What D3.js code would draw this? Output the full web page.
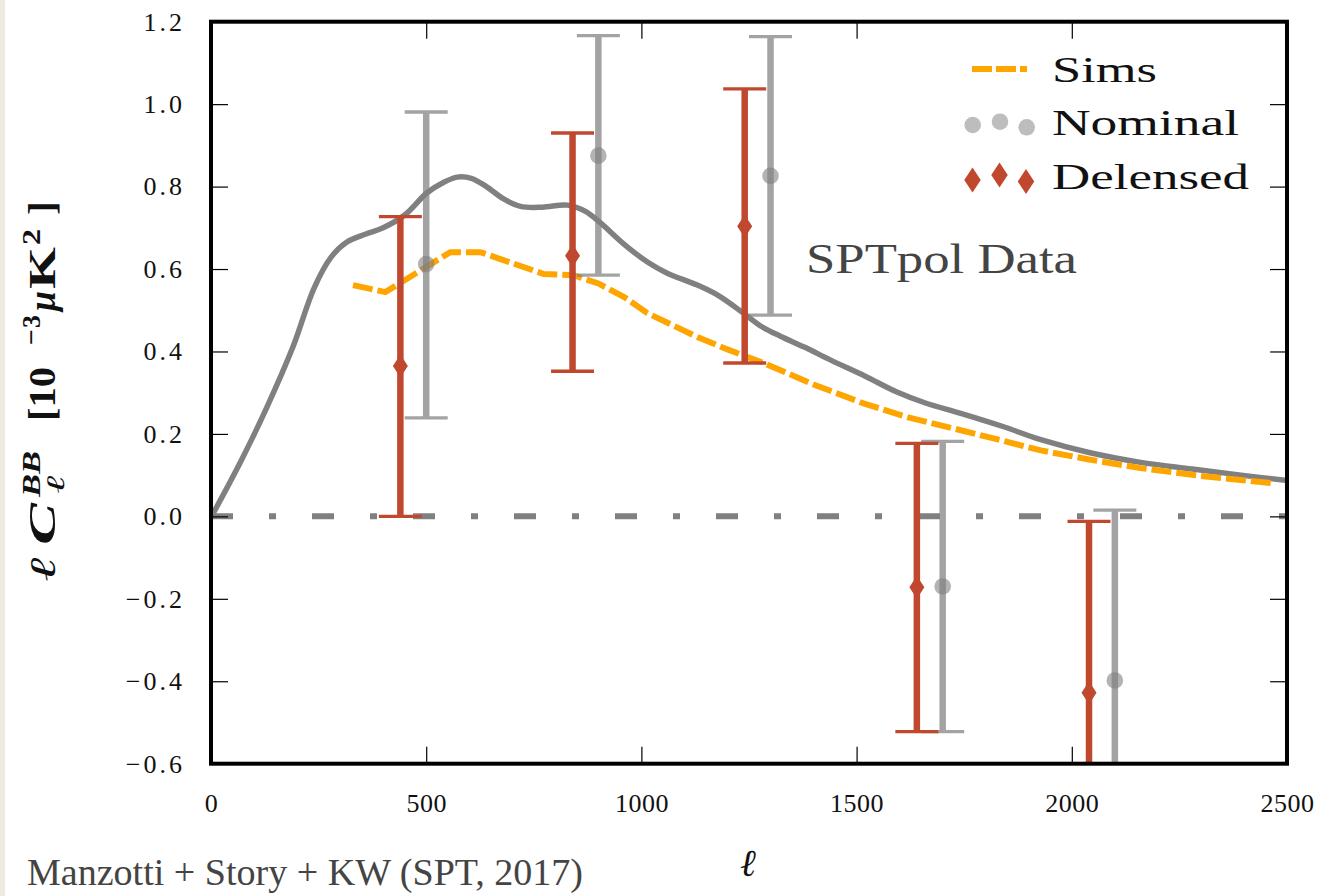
<!DOCTYPE html>
<html><head><meta charset="utf-8">
<script src="https://cdn.jsdelivr.net/npm/d3@7"></script>
<style>
html,body{margin:0;padding:0;background:#fff;}
svg{display:block;}
</style></head>
<body>
<svg id="chart" width="1329" height="896"></svg>
<script>
// ---- data ----
const xTicks = [0, 500, 1000, 1500, 2000, 2500];
const yTicks = [-0.6, -0.4, -0.2, 0.0, 0.2, 0.4, 0.6, 0.8, 1.0, 1.2];

const theoryL = [5, 70, 130, 190, 240, 280, 315, 360, 400, 450, 502, 540, 572, 605, 640, 680, 719, 770, 828, 870, 905, 960, 1014, 1060, 1130, 1180, 1237, 1280, 1323, 1380, 1440, 1520, 1595, 1660, 1742, 1840, 1928, 2040, 2160, 2280, 2393, 2502];
const theoryV = [0.007, 0.135, 0.265, 0.41, 0.555, 0.63, 0.665, 0.685, 0.70, 0.731, 0.785, 0.81, 0.823, 0.82, 0.80, 0.77, 0.752, 0.75, 0.755, 0.74, 0.712, 0.66, 0.617, 0.59, 0.561, 0.535, 0.493, 0.46, 0.437, 0.41, 0.379, 0.34, 0.301, 0.275, 0.25, 0.218, 0.186, 0.155, 0.131, 0.115, 0.10, 0.087];

const simsL = [330, 405, 556, 626, 773, 842, 900, 960, 1014, 1070, 1130, 1200, 1284, 1400, 1516, 1620, 1742, 1830, 1928, 2040, 2160, 2300, 2470];
const simsV = [0.561, 0.544, 0.641, 0.641, 0.588, 0.585, 0.565, 0.532, 0.493, 0.465, 0.435, 0.405, 0.372, 0.32, 0.274, 0.24, 0.209, 0.186, 0.16, 0.138, 0.117, 0.098, 0.080];

const nomL  = [500, 900, 1300, 1700, 2100];
const nomV  = [0.612, 0.875, 0.826, -0.170, -0.398];
const nomLo = [0.239, 0.585, 0.488, -0.522, -0.81];
const nomHi = [0.981, 1.166, 1.164, 0.182, 0.015];

const delL  = [440, 840, 1240, 1640, 2040];
const delV  = [0.365, 0.632, 0.704, -0.172, -0.428];
const delLo = [0.0, 0.352, 0.372, -0.522, -0.84];
const delHi = [0.727, 0.93, 1.037, 0.177, -0.012];

const legendLabels = ["Sims", "Nominal", "Delensed"];

// ---- layout ----
const svg = d3.select("#chart");
const L = 211, R = 1287, T = 21.7, B = 763.7;
const x = d3.scaleLinear().domain([0, 2500]).range([L, R]);
const y = d3.scaleLinear().domain([-0.6, 1.2]).range([B, T]);

const RED = "#C0482E", GRAY = "#808080", ORANGE = "#FFA500";
const serif = "'Liberation Serif', 'DejaVu Serif', serif";

// left cream strip
svg.append("rect").attr("x", 0).attr("y", 0).attr("width", 5).attr("height", 896).attr("fill", "#eeeae2");

svg.append("defs").append("clipPath").attr("id", "clip")
  .append("rect").attr("x", L).attr("y", T).attr("width", R - L).attr("height", B - T);

const plot = svg.append("g").attr("clip-path", "url(#clip)");

// theory curve
plot.append("path")
  .datum(theoryL.map((l, i) => [l, theoryV[i]]))
  .attr("fill", "none").attr("stroke", GRAY).attr("stroke-width", 5.5)
  .attr("stroke-linejoin", "round")
  .attr("d", d3.line().x(d => x(d[0])).y(d => y(d[1])).curve(d3.curveCatmullRom.alpha(0.5)));

// sims curve
plot.append("path")
  .datum(simsL.map((l, i) => [l, simsV[i]]))
  .attr("fill", "none").attr("stroke", ORANGE).attr("stroke-width", 6)
  .attr("stroke-dasharray", "20 5")
  .attr("d", d3.line().x(d => x(d[0])).y(d => y(d[1])));

// zero line (dash-dot)
plot.append("line")
  .attr("x1", x(0)).attr("x2", x(2500)).attr("y1", y(0)).attr("y2", y(0))
  .attr("stroke", GRAY).attr("stroke-width", 6)
  .attr("stroke-dasharray", "22 36 7 36");

// error bars
function errorbars(ls, vs, lo, hi, color, op) {
  const g = plot.append("g").attr("opacity", op);
  ls.forEach((l, i) => {
    const gg = g.append("g");
    gg.append("line").attr("x1", x(l)).attr("x2", x(l))
      .attr("y1", y(lo[i])).attr("y2", y(hi[i]))
      .attr("stroke", color).attr("stroke-width", 6.5);
    [lo[i], hi[i]].forEach(v => {
      gg.append("line").attr("x1", x(l) - 21.5).attr("x2", x(l) + 21.5)
        .attr("y1", y(v)).attr("y2", y(v))
        .attr("stroke", color).attr("stroke-width", 3.3);
    });
  });
}
errorbars(nomL, nomV, nomLo, nomHi, GRAY, 0.72);
errorbars(delL, delV, delLo, delHi, RED, 1);

// nominal markers
plot.selectAll("circle.nom").data(nomL).enter().append("circle")
  .attr("cx", d => x(d)).attr("cy", (d, i) => y(nomV[i])).attr("r", 8.3)
  .attr("fill", GRAY).attr("fill-opacity", 0.6);

// delensed markers
const diamond = (cx, cy, w, h) => `M${cx},${cy - h / 2}L${cx + w / 2},${cy}L${cx},${cy + h / 2}L${cx - w / 2},${cy}Z`;
plot.selectAll("path.del").data(delL).enter().append("path")
  .attr("d", (d, i) => diamond(x(d), y(delV[i]), 15, 23))
  .attr("fill", RED);

// axes with inward ticks
const tickFont = g => g.selectAll("text").attr("font-family", serif).attr("font-size", 26).attr("fill", "#111");
const yAxis = svg.append("g").attr("transform", `translate(${L},0)`)
  .call(d3.axisLeft(y).tickValues(yTicks).tickSizeInner(-17).tickSizeOuter(0).tickPadding(26)
    .tickFormat(d => d3.format(".1f")(d).replace("-", "\u2212")));
yAxis.call(tickFont);
yAxis.selectAll("text").attr("letter-spacing", 3);
const xAxis = svg.append("g").attr("transform", `translate(0,${B})`)
  .call(d3.axisBottom(x).tickValues(xTicks).tickSizeInner(-17).tickSizeOuter(0).tickPadding(30)
    .tickFormat(d3.format("d")));
xAxis.call(tickFont);
xAxis.selectAll("text").attr("letter-spacing", 0.5);
svg.append("g").attr("transform", `translate(${R},0)`)
  .call(d3.axisRight(y).tickValues(yTicks).tickSizeInner(-17).tickSizeOuter(0).tickFormat(""));
svg.append("g").attr("transform", `translate(0,${T})`)
  .call(d3.axisTop(x).tickValues(xTicks).tickSizeInner(-17).tickSizeOuter(0).tickFormat(""));
svg.selectAll(".domain").remove();
svg.selectAll(".tick line").attr("stroke", "#000").attr("stroke-width", 1.2);

// frame
svg.append("rect").attr("x", L).attr("y", T).attr("width", R - L).attr("height", B - T)
  .attr("fill", "none").attr("stroke", "#000").attr("stroke-width", 4);

// legend
const lg = svg.append("g");
const lgX = 1052, lgBase = [82, 135, 189], lgW = [105, 187, 197];
legendLabels.forEach((t, i) => {
  lg.append("text").attr("x", lgX).attr("y", lgBase[i]).text(t)
    .attr("font-family", serif).attr("font-size", 36).attr("fill", "#111")
    .attr("textLength", lgW[i]).attr("lengthAdjust", "spacingAndGlyphs");
});
lg.append("line").attr("x1", 972).attr("x2", 1027).attr("y1", 69).attr("y2", 69)
  .attr("stroke", ORANGE).attr("stroke-width", 6).attr("stroke-dasharray", "20 4");
[[972.7, 125], [1000, 121.7], [1026.7, 127.3]].forEach(p => {
  lg.append("circle").attr("cx", p[0]).attr("cy", p[1]).attr("r", 8.3).attr("fill", "#bdbdbd");
});
[[972.5, 180], [999.5, 175], [1026, 181.5]].forEach(p => {
  lg.append("path").attr("d", diamond(p[0], p[1], 16.5, 25)).attr("fill", RED);
});

// annotation
svg.append("text").attr("x", 806).attr("y", 273).text("SPTpol Data")
  .attr("font-family", serif).attr("font-size", 42).attr("fill", "#444")
  .attr("textLength", 271).attr("lengthAdjust", "spacingAndGlyphs");

svg.append("text").attr("x", 27).attr("y", 885).text("Manzotti + Story + KW (SPT, 2017)")
  .attr("font-family", serif).attr("font-size", 37).attr("fill", "#444")
  .attr("textLength", 556).attr("lengthAdjust", "spacingAndGlyphs");

// x label
svg.append("text").attr("x", 748).attr("y", 876).attr("text-anchor", "middle")
  .attr("font-family", serif).attr("font-style", "italic").attr("font-size", 38).attr("fill", "#111")
  .text("\u2113");

// y label: pieces placed along the rotated axis (u along text, v across)
const yl = svg.append("g").attr("transform", "translate(55,395) rotate(-90)")
  .attr("font-family", serif).attr("fill", "#111");
const ylPieces = [
  {t: "\u2113",  u: -187, w: 24, v: 0,   fs: 36, st: "italic", fw: "normal"},
  {t: "C",       u: -150, w: 42, v: 0,   fs: 38, st: "italic", fw: "bold"},
  {t: "BB",      u: -102, w: 46, v: -15, fs: 26, st: "italic", fw: "bold"},
  {t: "\u2113",  u: -99,  w: 18, v: 9,   fs: 25, st: "italic", fw: "normal"},
  {t: "[10",     u: -26,  w: 54, v: 0,   fs: 38, st: "normal", fw: "bold"},
  {t: "\u2212",  u: 50,   w: 16, v: -15, fs: 26, st: "normal", fw: "bold"},
  {t: "3",       u: 67,   w: 13, v: -15, fs: 26, st: "normal", fw: "bold"},
  {t: "\u03bc",  u: 84,   w: 20, v: 0,   fs: 38, st: "italic", fw: "bold"},
  {t: "K",       u: 106,  w: 42, v: 0,   fs: 38, st: "normal", fw: "bold"},
  {t: "2",       u: 150,  w: 16, v: -15, fs: 26, st: "normal", fw: "bold"},
  {t: "]",       u: 180,  w: 14, v: 0,   fs: 38, st: "normal", fw: "bold"}
];
ylPieces.forEach(p => {
  yl.append("text").attr("x", p.u).attr("y", p.v).text(p.t)
    .attr("font-size", p.fs).attr("font-style", p.st).attr("font-weight", p.fw)
    .attr("textLength", p.w).attr("lengthAdjust", "spacingAndGlyphs");
});
</script>
</body></html>
